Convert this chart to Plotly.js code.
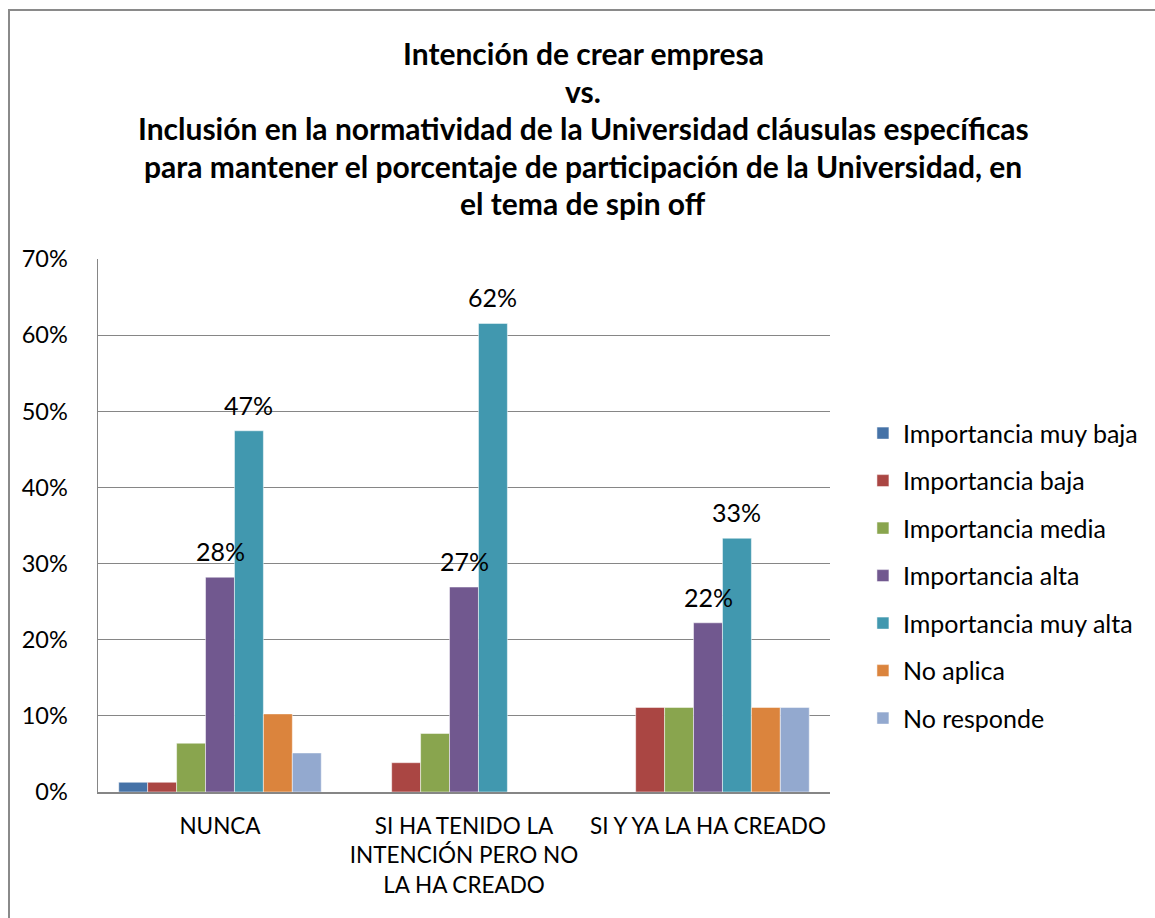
<!DOCTYPE html>
<html>
<head>
<meta charset="utf-8">
<script src="https://cdn.plot.ly/plotly-3.0.1.min.js"></script>
<style>
html,body{margin:0;padding:0;overflow:hidden;background:#fff;}
#chart{width:1155px;height:918px;}
#frame{position:absolute;left:8px;top:9px;width:2000px;height:2000px;border:2px solid #8a8a8a;pointer-events:none;}
</style>
</head>
<body>
<div id="chart"></div>
<div id="frame"></div>
<script>
const categories = ["NUNCA", "SI HA TENIDO LA<br>INTENCIÓN PERO NO<br>LA HA CREADO", "SI Y YA LA HA CREADO"];
const seriesNames = ["Importancia muy baja", "Importancia baja", "Importancia media", "Importancia alta", "Importancia muy alta", "No aplica", "No responde"];
const muyBaja  = [0.0128, 0, 0];
const baja     = [0.0128, 0.0385, 0.1111];
const media    = [0.0641, 0.0769, 0.1111];
const alta     = [0.2821, 0.2692, 0.2222];
const muyAlta  = [0.4744, 0.6154, 0.3333];
const noAplica = [0.1026, 0, 0.1111];
const noResp   = [0.0513, 0, 0.1111];
const labeledSeries = [3, 4];
const yTickVals = [0, 0.1, 0.2, 0.3, 0.4, 0.5, 0.6, 0.7];
const yTickText = ["0%", "10%", "20%", "30%", "40%", "50%", "60%", "70%"];
const titleLines = [
  "Intención de crear empresa",
  "vs.",
  "Inclusión en la normatividad de la Universidad cláusulas específicas",
  "para mantener el porcentaje de participación de la Universidad, en",
  "el tema de spin off"
];
const colors = ["#4572A7", "#AA4643", "#89A54E", "#71588F", "#4198AF", "#DB843D", "#93A9CF"];

const allSeries = [muyBaja, baja, media, alta, muyAlta, noAplica, noResp];
const FONT = "Lato, 'Open Sans', sans-serif";
const bargap = 0.17;

const traces = allSeries.map((vals, i) => ({
  type: "bar",
  name: seriesNames[i],
  x: categories,
  y: vals,
  legendgroup: "g" + i,
  marker: {color: colors[i], line: {color: "rgba(255,255,255,0.5)", width: 1}},
  hoverinfo: "name+y"
}));

const L = 98, R = 325, T = 259, B = 126, W = 1155, H = 918;
const pw = W - L - R, ph = H - T - B;

const annotations = [];
const n = allSeries.length;
const w = (1 - bargap) / n;
labeledSeries.forEach(si => {
  allSeries[si].forEach((v, ci) => {
    annotations.push({
      x: ci + (si - (n - 1) / 2) * w,
      y: v,
      xref: "x", yref: "y",
      text: Math.round(v * 100) + "%",
      showarrow: false,
      yanchor: "bottom",
      yshift: 9,
      font: {family: FONT, size: 25, color: "#000"}
    });
  });
});

const titleTop = 53, titleStep = 37.5, titleCx = 583;
titleLines.forEach((t, k) => {
  const cy = titleTop + k * titleStep;
  annotations.push({
    x: (titleCx - L) / pw, xref: "paper",
    y: (H - B - cy) / ph, yref: "paper",
    xanchor: "center", yanchor: "middle",
    text: "<b>" + t + "</b>", showarrow: false,
    font: {family: FONT, size: 30, color: "#000"}
  });
});

const layout = {
  width: W, height: H,
  margin: {l: L, r: R, t: T, b: B},
  paper_bgcolor: "#fff", plot_bgcolor: "#fff",
  barmode: "group",
  bargap: bargap, bargroupgap: 0,
  font: {family: FONT, color: "#000"},
  showlegend: true,
  legend: {
    x: 1.045, xanchor: "left", y: 0.716, yanchor: "top",
    font: {family: FONT, size: 25, color: "#000"},
    tracegroupgap: 12, traceorder: "grouped",
    itemwidth: 30
  },
  xaxis: {
    type: "category",
    showgrid: false,
    showline: true, linecolor: "#868686", linewidth: 2,
    ticks: "", tickfont: {family: FONT, size: 22.5, color: "#000"},
    ticklabelstandoff: 13,
    fixedrange: true
  },
  yaxis: {
    range: [0, 0.7],
    tickvals: yTickVals, ticktext: yTickText,
    showgrid: true, gridcolor: "#868686", gridwidth: 1,
    showline: true, linecolor: "#868686", linewidth: 1.5,
    zeroline: false,
    ticks: "", tickfont: {family: FONT, size: 23.5, color: "#000"},
    ticklabelstandoff: 24,
    fixedrange: true
  },
  annotations: annotations
};

Plotly.newPlot("chart", traces, layout, {displayModeBar: false, staticPlot: true});
</script>
</body>
</html>
